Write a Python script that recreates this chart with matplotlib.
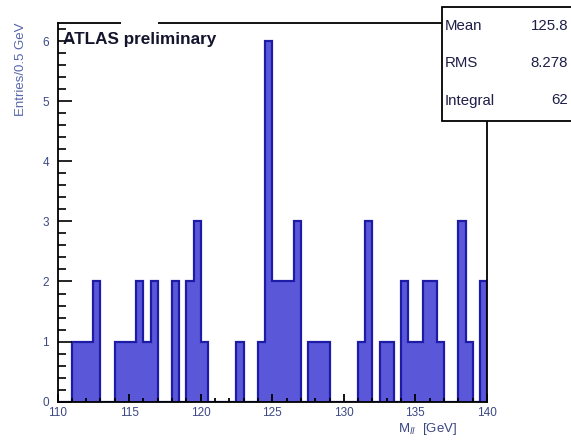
import numpy as np
import matplotlib
matplotlib.use("Agg")
import matplotlib.pyplot as plt
from matplotlib.patches import Rectangle
from matplotlib.ticker import MultipleLocator

plt.rcParams['font.family'] = ['Liberation Sans', 'DejaVu Sans']

# dilepton mass histogram, 0.5 GeV bins from 110 to 140 GeV
bin_lo, bin_hi, bin_w = 110.0, 140.0, 0.5
counts = [0, 0, 1, 1, 1, 2, 0, 0, 1, 1,
          1, 2, 1, 2, 0, 0, 2, 0, 2, 3,
          1, 0, 0, 0, 0, 1, 0, 0, 1, 6,
          2, 2, 2, 3, 0, 1, 1, 1, 0, 0,
          0, 0, 1, 3, 0, 1, 1, 0, 2, 1,
          1, 2, 2, 1, 0, 0, 3, 1, 0, 2]
stat_names = ["Mean", "RMS", "Integral"]
stat_values = ["125.8", "8.278", "62"]

edges = np.linspace(bin_lo, bin_hi, len(counts) + 1)

W, H = 571, 442
fig = plt.figure(figsize=(W / 100, H / 100), dpi=100)
ax = fig.add_axes([57.5 / W, 1 - 401.7 / H, (487 - 57.5) / W, (401.7 - 23) / H])
ax.set_axisbelow(False)

ax.stairs(counts, edges, fill=True, color='#5b57d9', zorder=1)
ax.stairs(counts, edges, fill=False, color='#1c1ca6', lw=1.6, zorder=1.5)

ax.set_xlim(bin_lo, bin_hi)
ax.set_ylim(0, 1.05 * max(counts))

ax.xaxis.set_major_locator(MultipleLocator(5))
ax.xaxis.set_minor_locator(MultipleLocator(1))
ax.yaxis.set_major_locator(MultipleLocator(1))
ax.yaxis.set_minor_locator(MultipleLocator(0.2))
tick_col = '#3c4884'
ax.tick_params(axis='x', which='major', direction='in', length=6, width=1.3,
               labelsize=8.5, labelcolor=tick_col, pad=4)
ax.tick_params(axis='x', which='minor', direction='in', length=3, width=1.3)
ax.tick_params(axis='y', which='major', direction='in', length=10, width=1.2,
               labelsize=8.5, labelcolor=tick_col, pad=6)
ax.tick_params(axis='y', which='minor', direction='in', length=6, width=1.2)

for s in ax.spines.values():
    s.set_linewidth(1.3)
    s.set_zorder(5)

# gap in the top frame line
ax.add_patch(Rectangle((114.45, 6.2), 2.6, 0.2, transform=ax.transData,
                       facecolor='white', edgecolor='none', zorder=6, clip_on=False))

ax.text(110.35, 6.02, "ATLAS preliminary", fontsize=12.3, fontweight='bold',
        color='#14142e', ha='left', va='center', zorder=7)

ax.set_ylabel("Entries/0.5 GeV", fontsize=9.5, color='#5566aa', loc='top', labelpad=11)
ax.set_xlabel(r"M$_{ll}$  [GeV]", fontsize=9.5, color='#3a4680', loc='right', labelpad=1)
ax.xaxis.label.set_position((0.93, 0))

# statistics box in the top right corner
bx0, by0, bx1, by1 = 441.7, 6.7, 575, 120.7
fig.patches.append(Rectangle((bx0 / W, 1 - by1 / H), (bx1 - bx0) / W, (by1 - by0) / H,
                             transform=fig.transFigure, facecolor='white',
                             edgecolor='black', lw=1.3, zorder=10))
for i, (name, val) in enumerate(zip(stat_names, stat_values)):
    yy = 1 - (25.5 + i * 37.5) / H
    fig.text(445 / W, yy, name, fontsize=10.8, color='#1e1e48', ha='left', va='center', zorder=11)
    fig.text(568 / W, yy, val, fontsize=10.8, color='#1e1e48', ha='right', va='center', zorder=11)

fig.savefig("out.png", dpi=100)
